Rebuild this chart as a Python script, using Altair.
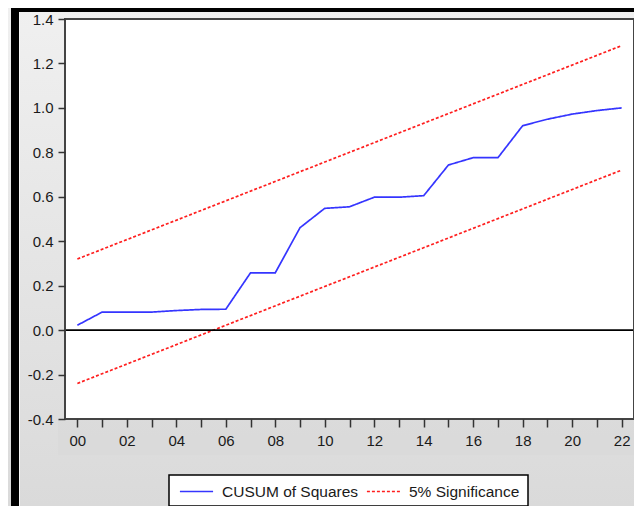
import altair as alt
import pandas as pd

years = list(range(2000, 2023))
cusum = [0.022, 0.081, 0.081, 0.081, 0.088, 0.093, 0.094, 0.258, 0.258, 0.461,
         0.548, 0.555, 0.598, 0.598, 0.605, 0.743, 0.776, 0.776, 0.920, 0.949,
         0.972, 0.988, 1.000]
band_years = [2000, 2022]
upper = [0.32, 1.28]
lower = [-0.24, 0.72]
y_ticks = [-0.4, -0.2, 0.0, 0.2, 0.4, 0.6, 0.8, 1.0, 1.2, 1.4]
series_names = ["CUSUM of Squares", "5% Significance"]

rows = []
for yr, v in zip(years, cusum):
    rows.append({"year": yr, "value": v, "series": series_names[0], "line": "cusum"})
for yr, v in zip(band_years, upper):
    rows.append({"year": yr, "value": v, "series": series_names[1], "line": "upper"})
for yr, v in zip(band_years, lower):
    rows.append({"year": yr, "value": v, "series": series_names[1], "line": "lower"})
df = pd.DataFrame(rows)

FONT = "Liberation Sans"
W, H = 569, 400
one = pd.DataFrame({"k": [0]})

def box(x1, x2, y1, y2, **mark):
    return alt.Chart(one).mark_rect(**mark).encode(
        x=alt.value(x1), x2=alt.value(x2), y=alt.value(y1), y2=alt.value(y2))

grad = alt.LinearGradient(
    gradient="linear",
    stops=[alt.GradientStop(offset=0, color="#f0f0f0"),
           alt.GradientStop(offset=1, color="#dadada")],
    x1=0, x2=0, y1=0, y2=1)

bg = box(-57, 569, -11, 487, fill=grad)
band = box(-7, 569, 401, 436, fill="#d9d9d9", opacity=0.6)
black_left = box(-54, -46, -11, 487, fill="black")
white_left = box(-46, -45, -7, 487, fill="#f8f8f8")
black_top = box(-54, 569, -11, -7, fill="black")
plot_bg = box(0, W, 0, H, fill="white")
frame = box(0, W, 0, H, fill=None, stroke="#444", strokeWidth=2, filled=False)
legend_box = box(104, 463, 456, 487, fill="white", stroke="black", strokeWidth=1.5)

legend = alt.Legend(
    orient="none", legendX=114, legendY=455, direction="horizontal", title=None,
    symbolType="stroke", symbolSize=1100, symbolStrokeWidth=1.6,
    labelFont=FONT, labelFontSize=15.5, labelColor="#1a1a1a", labelOffset=8,
    columnPadding=4, padding=0)

lines = alt.Chart(df).mark_line(strokeWidth=1.7).encode(
    x=alt.X("year:Q",
            scale=alt.Scale(domain=[1999.5, 2022.5], nice=False, zero=False),
            axis=alt.Axis(values=years, title=None, grid=False, domain=False,
                          tickSize=8, tickColor="#333", tickWidth=1.5,
                          labelExpr="datum.value % 2 == 0 ? substring(toString(datum.value), 2) : ''",
                          labelFont=FONT, labelFontSize=15, labelColor="#1a1a1a",
                          labelPadding=6, labelFlush=False, zindex=1)),
    y=alt.Y("value:Q",
            scale=alt.Scale(domain=[-0.4, 1.4], nice=False, zero=False),
            axis=alt.Axis(values=y_ticks, title=None, grid=False, domain=False,
                          tickSize=7, tickColor="#333", tickWidth=1.5,
                          labelExpr="replace(format(datum.value, '.1f'), '\u2212', '-')",
                          labelFont=FONT, labelFontSize=15, labelColor="#1a1a1a",
                          labelPadding=5, labelFlush=False, zindex=1)),
    color=alt.Color("series:N",
                    scale=alt.Scale(domain=series_names, range=["#3535ff", "#ff1e1e"]),
                    legend=legend),
    strokeDash=alt.StrokeDash("series:N",
                              scale=alt.Scale(domain=series_names, range=[[1, 0], [3, 2]]),
                              legend=legend),
    detail="line:N",
)

zero = alt.Chart(one).mark_rule(color="black", strokeWidth=1.6).encode(y=alt.datum(0))

chart = alt.layer(
    bg, band, black_left, white_left, black_top, legend_box, plot_bg,
    lines, zero, frame
).properties(
    width=W, height=H,
    padding={"left": 57, "top": 11, "right": 0, "bottom": 87},
    autosize=alt.AutoSizeParams(type="none"),
    background="white",
).configure_view(stroke=None)

chart.save("out.html", embed_options={"renderer": "svg", "actions": False})
